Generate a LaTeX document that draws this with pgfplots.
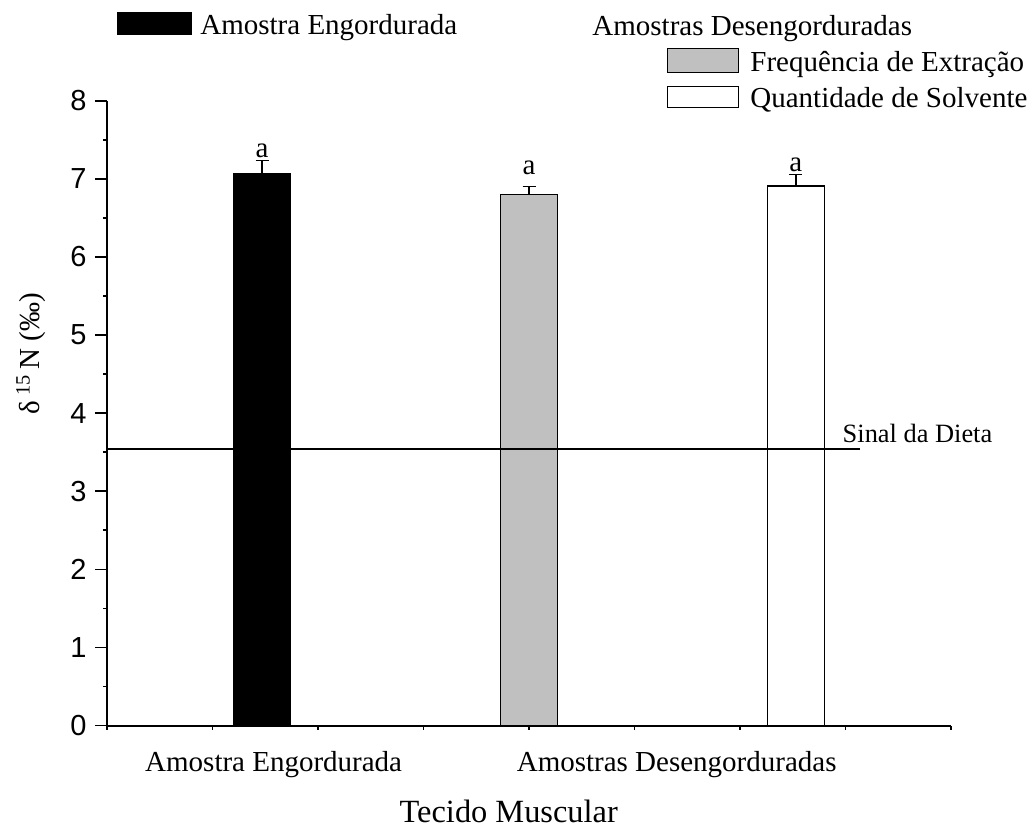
\documentclass[border=0pt]{standalone}
\usepackage{fontspec}
\setmainfont{Liberation Serif}
\newfontfamily\arialfont{Liberation Sans}
\usepackage{pgfplots}
\pgfplotsset{compat=1.18}
\definecolor{silver}{RGB}{192,192,192}
\newcommand{\lbl}{\fontsize{14.5}{17}\selectfont}
\newcommand{\ticfont}{\arialfont\fontsize{14.5}{17}\selectfont}
\begin{document}
\begin{tikzpicture}
\begin{axis}[
  at={(53.5pt,-362.75pt)}, anchor=south west,
  scale only axis, width=422pt, height=312.4pt,
  xmin=0, xmax=8, ymin=0, ymax=8,
  clip=false,
  axis x line*=bottom, axis y line*=left,
  axis line style={-, line width=1pt},
  xtick={1.58,5.4},
  xticklabels={Amostra Engordurada, Amostras Desengorduradas},
  major x tick style={draw=none},
  minor xtick={0,1,...,8},
  ytick={0,1,...,8}, minor ytick={0.5,1.5,...,7.5},
  yticklabels={0,1,2,3,4,5,6,7,8},
  tick align=outside, major tick length=6pt, minor tick length=2pt,
  tick style={black, line width=0.8pt},
  xticklabel style={font=\lbl, anchor=base, inner sep=0pt, yshift=-17pt},
  yticklabel style={font=\ticfont, inner sep=0pt, xshift=-4pt},
  xlabel={Tecido Muscular},
  xlabel style={font=\fontsize{16.2}{19}\selectfont, at={(axis description cs:0.476,0)}, anchor=base, inner sep=0pt, yshift=-48.25pt},
  ylabel={δ\,\textsuperscript{15}\,N (‰)},
  ylabel style={font=\lbl, at={(axis description cs:-0.0794,0.595)}, anchor=base, inner sep=0pt},
]
% Amostra Engordurada
\addplot[ybar, bar width=28.5pt, bar shift=0pt, fill=black, draw=black, line width=0.8pt,
  error bars/.cd, y dir=plus, y explicit,
  error bar style={line width=0.6pt, black},
  error mark options={rotate=90, mark size=3.25pt, line width=0.6pt, black}]
  coordinates {(1.47,7.07) +- (0,0.16)};
% Frequencia de Extracao
\addplot[ybar, bar width=28.5pt, bar shift=0pt, fill=silver, draw=black, line width=0.8pt,
  error bars/.cd, y dir=plus, y explicit,
  error bar style={line width=0.6pt, black},
  error mark options={rotate=90, mark size=3.25pt, line width=0.6pt, black}]
  coordinates {(4.0,6.80) +- (0,0.10)};
% Quantidade de Solvente
\addplot[ybar, bar width=28.5pt, bar shift=0pt, fill=white, draw=black, line width=0.8pt,
  error bars/.cd, y dir=plus, y explicit,
  error bar style={line width=0.6pt, black},
  error mark options={rotate=90, mark size=3.25pt, line width=0.6pt, black}]
  coordinates {(6.53,6.91) +- (0,0.15)};
% Diet signal
\addplot[black, line width=0.6pt] coordinates {(0,3.54) (7.14,3.54)};
\node[anchor=base west, inner sep=0pt, font=\fontsize{13.2}{15}\selectfont] at (axis cs:6.97,3.63) {Sinal da Dieta};
\node[anchor=base, inner sep=0pt, font=\lbl] at (axis cs:1.47,7.27) {a};
\node[anchor=base, inner sep=0pt, font=\lbl] at (axis cs:4.0,7.05) {a};
\node[anchor=base, inner sep=0pt, font=\lbl] at (axis cs:6.53,7.10) {a};
\end{axis}
\begin{scope}[x=0.5pt, y=-0.5pt]
  \path[use as bounding box] (0,0) rectangle (1027,834);
  \fill[black] (117,12) rectangle (192,35);
  \node[anchor=base west, inner sep=0pt, font=\lbl] at (200,35) {Amostra Engordurada};
  \node[anchor=base west, inner sep=0pt, font=\lbl] at (592,36) {Amostras Desengorduradas};
  \filldraw[fill=silver, draw=black, line width=0.5pt] (667,49) rectangle (738,73);
  \node[anchor=base west, inner sep=0pt, font=\lbl] at (750,72) {Frequência de Extração};
  \filldraw[fill=white, draw=black, line width=0.5pt] (667,87) rectangle (738,108);
  \node[anchor=base west, inner sep=0pt, font=\lbl] at (750,108) {Quantidade de Solvente};
\end{scope}
\end{tikzpicture}
\end{document}
